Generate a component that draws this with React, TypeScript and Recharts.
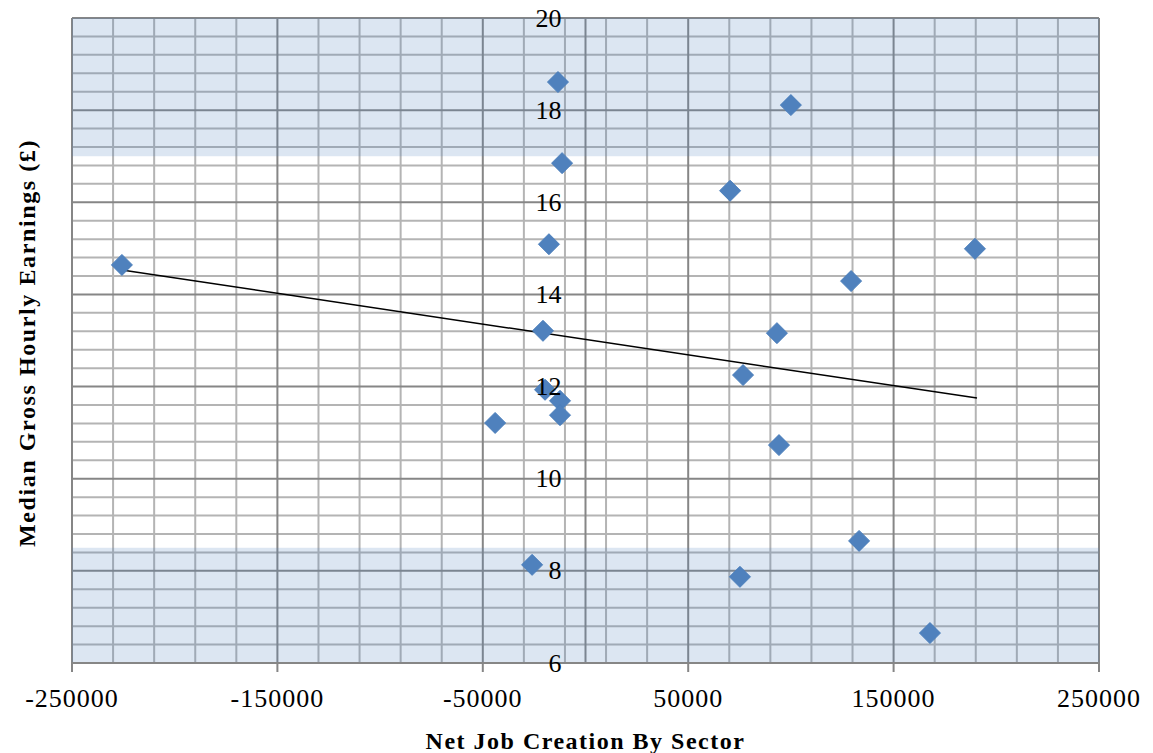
import React from "react"
import {
  ScatterChart, Scatter, XAxis, YAxis, ReferenceLine, ReferenceArea,
} from "recharts"

// ── data ────────────────────────────────────────────────────────────────────
const jobs = [
  -225700, -44000, -26000, -20700, -19700, -17800, -13400, -12400, -12400, -11400,
  70400, 75200, 76700, 93200, 94200, 100000, 129300, 133200, 167700, 189600,
]
const earnings = [
  14.64, 11.21, 8.13, 13.21, 11.93, 15.09, 18.61, 11.69, 11.38, 16.85,
  16.25, 7.87, 12.25, 13.16, 10.73, 18.11, 14.29, 8.65, 6.65, 14.99,
]
const trendJobs = [-225700, 190600]
const trendEarnings = [14.53, 11.75]

const xTicks = [-250000, -150000, -50000, 50000, 150000, 250000]
const yTicks = [6, 8, 10, 12, 14, 16, 18, 20]
const xMinor = Array.from({ length: 26 }, (_, k) => -250000 + k * 20000)
const yMinor = Array.from({ length: 36 }, (_, k) => Math.round((6 + k * 0.4) * 10) / 10)
const bands = [[17, 20], [6, 8.5]]

const points = jobs.map((x, i) => ({ x, y: earnings[i] }))
const trend = trendJobs.map((x, i) => ({ x, y: trendEarnings[i] }))

// ── layout ──────────────────────────────────────────────────────────────────
const W = 1153
const H = 753
const LEFT = 72
const RIGHT = 54
const TOP = 18
const BOTTOM = 90
const X_MIN = -250000
const X_MAX = 250000
const ZERO_X = LEFT + (W - LEFT - RIGHT) * (0 - X_MIN) / (X_MAX - X_MIN)

const FONT = "'Liberation Serif', 'DejaVu Serif', serif"
const MINOR = "#b4b4b4"
const MAJOR = "#868686"

const Diamond = (props: any) => {
  const { cx, cy } = props
  const r = 10.5
  return (
    <path d={`M${cx},${cy - r}L${cx + r},${cy}L${cx},${cy + r}L${cx - r},${cy}Z`}
      fill="#4F81BD" stroke="#4A7EBB" strokeWidth={1} />
  )
}

const YTick = (props: any) => {
  const { y, payload } = props
  return (
    <text x={ZERO_X - 24} y={y} textAnchor="end" dominantBaseline="central"
      fontSize={26} fontFamily={FONT} fill="#000">
      {payload.value}
    </text>
  )
}

export default function App() {
  return (
    <div style={{ position: "absolute", left: 0, top: 0, width: W, height: H, background: "#fff" }}>
      <ScatterChart width={W} height={H} margin={{ top: TOP, right: RIGHT, left: 0, bottom: 0 }}>
        <XAxis type="number" dataKey="x" domain={[X_MIN, X_MAX]} ticks={xTicks}
          allowDataOverflow height={BOTTOM} interval={0}
          axisLine={{ stroke: MAJOR, strokeWidth: 2 }} tickLine={{ stroke: MAJOR, strokeWidth: 2 }}
          tickSize={9} tickMargin={17}
          tick={{ fontSize: 26, fontFamily: FONT, fill: "#000", letterSpacing: 1 }}
          label={{
            content: () => (
              <text x={LEFT + (W - LEFT - RIGHT) / 2} y={741} textAnchor="middle" dominantBaseline="central"
                fontSize={24} fontWeight="bold" fontFamily={FONT} fill="#000" letterSpacing={1.5}>
                Net Job Creation By Sector
              </text>
            ),
          }}
        />
        <YAxis type="number" dataKey="y" domain={[6, 20]} ticks={yTicks} allowDataOverflow
          width={LEFT} interval={0} axisLine={false} tickLine={false} tick={<YTick />}
          label={{
            content: () => (
              <text x={27} y={343} transform="rotate(-90 27 343)" textAnchor="middle" dominantBaseline="central"
                fontSize={24} fontWeight="bold" fontFamily={FONT} fill="#000" letterSpacing={1.6}>
                Median Gross Hourly Earnings (£)
              </text>
            ),
          }}
        />

        {/* minor grid */}
        {xMinor.filter((v) => !xTicks.includes(v)).map((v) => (
          <ReferenceLine key={`xm${v}`} x={v} stroke={MINOR} strokeWidth={2} />
        ))}
        {yMinor.filter((v) => !yTicks.includes(v)).map((v) => (
          <ReferenceLine key={`ym${v}`} y={v} stroke={MINOR} strokeWidth={2} />
        ))}
        {/* major grid */}
        {xTicks.map((v) => (
          <ReferenceLine key={`xM${v}`} x={v} stroke={MAJOR} strokeWidth={2} />
        ))}
        {yTicks.filter((v) => v !== 6).map((v) => (
          <ReferenceLine key={`yM${v}`} y={v} stroke={MAJOR} strokeWidth={2} />
        ))}
        <ReferenceLine x={0} stroke={MAJOR} strokeWidth={2} />

        {/* shaded bands */}
        {bands.map(([a, b]) => (
          <ReferenceArea key={`b${a}`} y1={a} y2={b} fill="#4F81BD" fillOpacity={0.2} stroke="none" zIndex={450} />
        ))}

        <Scatter data={trend} line={{ stroke: "#000", strokeWidth: 1.5 }} shape={() => null}
          isAnimationActive={false} legendType="none" />
        <Scatter data={points} shape={<Diamond />} isAnimationActive={false} />
      </ScatterChart>
    </div>
  )
}
